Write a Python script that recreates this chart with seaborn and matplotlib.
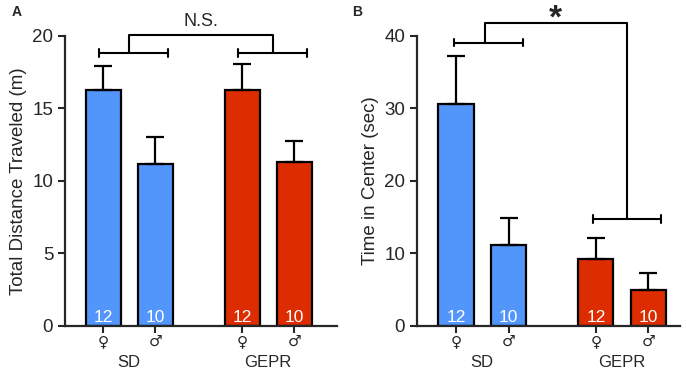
import numpy as np
import pandas as pd
import matplotlib
matplotlib.use("Agg")
import matplotlib.pyplot as plt
import matplotlib.transforms as mtransforms
import seaborn as sns

# ---- data ----
groups = ["SD", "SD", "GEPR", "GEPR"]
sexes = ["\u2640", "\u2642", "\u2640", "\u2642"]
n_labels = ["12", "10", "12", "10"]
bar_pos = [0.0, 1.0, 2.66, 3.66]

distance_mean = [16.3, 11.2, 16.3, 11.3]
distance_sem = [1.6, 1.8, 1.75, 1.45]

center_mean = [30.6, 11.2, 9.2, 5.0]
center_sem = [6.6, 3.65, 3.0, 2.3]

palette = {"SD": "#5296fc", "GEPR": "#dc2c00"}

sns.set_style("ticks")
plt.rcParams["font.family"] = ["Liberation Sans", "DejaVu Sans"]


def draw_panel(ax, means, sems, ylim, yticks, ylabel, xlim):
    df = pd.DataFrame({"pos": bar_pos, "val": means, "strain": groups})
    sns.barplot(data=df, x="pos", y="val", hue="strain", palette=palette,
                native_scale=True, dodge=False, width=0.67, errorbar=None,
                edgecolor="black", linewidth=1.6, legend=False, ax=ax,
                saturation=1)
    # upward-only SEM bars
    ax.errorbar(bar_pos, means, yerr=[np.zeros(len(means)), sems], fmt="none",
                ecolor="black", elinewidth=1.6, capsize=6.5, capthick=1.6, zorder=1)
    for x, n in zip(bar_pos, n_labels):
        ax.text(x, ylim[1] * 0.004, n, ha="center", va="bottom", color="white",
                fontsize=12.5, zorder=5)
    ax.set_ylim(*ylim)
    ax.set_xlim(*xlim)
    ax.set_yticks(yticks)
    ax.set_xticks(bar_pos)
    ax.set_xticklabels(sexes, fontsize=11, family="DejaVu Sans")
    ax.tick_params(axis="y", labelsize=13.5, width=1.5, length=5)
    ax.tick_params(axis="x", width=1.5, length=5, pad=1)
    ax.set_xlabel("")
    ax.set_ylabel(ylabel, fontsize=13.5)
    for s in ["left", "bottom"]:
        ax.spines[s].set_linewidth(1.6)
    sns.despine(ax=ax)
    trans = mtransforms.blended_transform_factory(ax.transData, ax.transAxes)
    for name, xs in [("SD", bar_pos[:2]), ("GEPR", bar_pos[2:])]:
        ax.text(np.mean(xs), -0.125, name, transform=trans, ha="center",
                va="center", fontsize=12)


def bracket(ax, x0, x1, y, cap):
    ax.plot([x0, x1], [y, y], color="black", lw=1.5, clip_on=False)
    for x in (x0, x1):
        ax.plot([x, x], [y - cap, y + cap], color="black", lw=1.5, clip_on=False)


fig = plt.figure(figsize=(6.86, 3.71), dpi=100)
axA = fig.add_axes([0.0948, 0.1213, 0.3965, 0.7817])
axB = fig.add_axes([0.6079, 0.1213, 0.3834, 0.7817])

# Panel A
draw_panel(axA, distance_mean, distance_sem, (0, 20), [0, 5, 10, 15, 20],
           "Total Distance Traveled (m)", (-0.73, 4.48))
bracket(axA, -0.07, 1.24, 18.8, 0.28)
bracket(axA, 2.59, 3.9, 18.8, 0.28)
axA.plot([0.5, 0.5, 3.26, 3.26], [18.8, 20.1, 20.1, 18.8], color="black",
         lw=1.5, clip_on=False)
axA.text(1.88, 21.0, "N.S.", ha="center", va="center", fontsize=13)

# Panel B
draw_panel(axB, center_mean, center_sem, (0, 40), [0, 10, 20, 30, 40],
           "Time in Center (sec)", (-0.74, 4.26))
bracket(axB, -0.04, 1.28, 39.1, 0.55)
bracket(axB, 2.61, 3.9, 14.75, 0.55)
axB.plot([0.55, 0.55, 3.26, 3.26], [39.1, 41.8, 41.8, 14.75], color="black",
         lw=1.5, clip_on=False)
axB.text(1.9, 42.3, "*", ha="center", va="center", fontsize=24, fontweight="bold")

fig.text(12 / 686, 1 - 12 / 371, "A", fontsize=10, fontweight="bold",
         ha="left", va="center")
fig.text(352 / 686, 1 - 12 / 371, "B", fontsize=10, fontweight="bold",
         ha="left", va="center")

fig.savefig("out.png", dpi=100)
